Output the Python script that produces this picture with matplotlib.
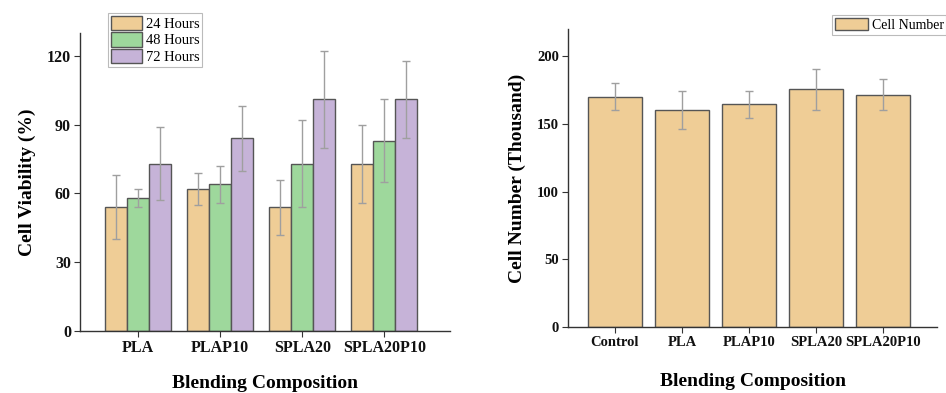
import matplotlib
matplotlib.use("Agg")
import matplotlib.pyplot as plt
import numpy as np

plt.rcParams['font.family'] = ['Liberation Serif', 'DejaVu Serif']

# Left chart data
groups = ["PLA", "PLAP10", "SPLA20", "SPLA20P10"]
series_names = ["24 Hours", "48 Hours", "72 Hours"]
v24 = [54, 62, 54, 73]
v48 = [58, 64, 73, 83]
v72 = [73, 84, 101, 101]
e24 = [14, 7, 12, 17]
e48 = [4, 8, 19, 18]
e72 = [16, 14, 21, 17]
left_yticks = [0, 30, 60, 90, 120]

# Right chart data
cats = ["Control", "PLA", "PLAP10", "SPLA20", "SPLA20P10"]
cell_num = [170, 160, 164.5, 175.5, 171.5]
cell_err = [10, 14, 10, 15, 11.5]
right_yticks = [0, 50, 100, 150, 200]

colors = ["#EFCD96", "#9ED89C", "#C6B3D8"]
edge = "#555555"
errc = "#9f9f9f"
spine_c = "#333333"

fig = plt.figure(figsize=(9.46, 3.93), dpi=100)
W, H = 946, 393

def axes_px(x0, x1, ytop, ybot):
    return fig.add_axes([x0 / W, (H - ybot) / H, (x1 - x0) / W, (ybot - ytop) / H])

def style(ax, size):
    for s in ["top", "right"]:
        ax.spines[s].set_visible(False)
    for s in ["left", "bottom"]:
        ax.spines[s].set_color(spine_c)
        ax.spines[s].set_linewidth(1.0)
    ax.tick_params(axis='both', direction='out', color=spine_c, length=4, width=0.8,
                   labelsize=size, labelcolor="#111111", pad=2.5)
    for lab in ax.get_xticklabels() + ax.get_yticklabels():
        lab.set_fontweight('bold')

# Left axes
ax1 = axes_px(80, 450, 33, 331)
x = np.arange(len(groups))
bw = 0.268
for i, (vals, errs) in enumerate(zip([v24, v48, v72], [e24, e48, e72])):
    ax1.bar(x + (i - 1) * bw, vals, bw, color=colors[i], edgecolor=edge, linewidth=1.0,
            label=series_names[i], zorder=2)
    ax1.errorbar(x + (i - 1) * bw, vals, yerr=errs, fmt='none', ecolor=errc,
                 elinewidth=1.0, capsize=3, capthick=1.0, zorder=3)
ax1.set_xlim(-0.707, 3.80)
ax1.set_ylim(0, 130)
ax1.set_xticks(x)
ax1.set_xticklabels(groups)
ax1.set_yticks(left_yticks)
style(ax1, 11.5)
ax1.set_xlabel("Blending Composition", fontsize=14, fontweight='bold', labelpad=14)
ax1.set_ylabel("Cell Viability (%)", fontsize=14, fontweight='bold', labelpad=8)
leg1 = ax1.legend(loc='upper left', bbox_to_anchor=(108 / W, 1 - 13 / H),
                  bbox_transform=fig.transFigure, fontsize=10.5, frameon=True,
                  fancybox=False, edgecolor="#aaaaaa", handlelength=2.1,
                  handleheight=1.15, handletextpad=0.3, labelspacing=0.08,
                  borderpad=0.2, borderaxespad=0)
leg1.get_frame().set_linewidth(0.8)

# Right axes
ax2 = axes_px(568, 937, 29, 327)
xr = np.arange(len(cats))
ax2.bar(xr, cell_num, 0.8, color=colors[0], edgecolor=edge, linewidth=1.0,
        label="Cell Number", zorder=2)
ax2.errorbar(xr, cell_num, yerr=cell_err, fmt='none', ecolor=errc,
             elinewidth=1.0, capsize=3, capthick=1.0, zorder=3)
ax2.set_xlim(-0.70, 4.80)
ax2.set_ylim(0, 220)
ax2.set_xticks(xr)
ax2.set_xticklabels(cats)
ax2.set_yticks(right_yticks)
style(ax2, 10.5)
ax2.set_xlabel("Blending Composition", fontsize=14, fontweight='bold', labelpad=17)
ax2.set_ylabel("Cell Number (Thousand)", fontsize=14, fontweight='bold', labelpad=8)
leg2 = ax2.legend(loc='upper left', bbox_to_anchor=(832 / W, 1 - 15 / H),
                  bbox_transform=fig.transFigure, fontsize=10, frameon=True,
                  fancybox=False, edgecolor="#aaaaaa", handlelength=2.4,
                  handleheight=1.0, handletextpad=0.25, borderpad=0.2,
                  borderaxespad=0)
leg2.get_frame().set_linewidth(0.8)

fig.savefig("out.png", dpi=100)
